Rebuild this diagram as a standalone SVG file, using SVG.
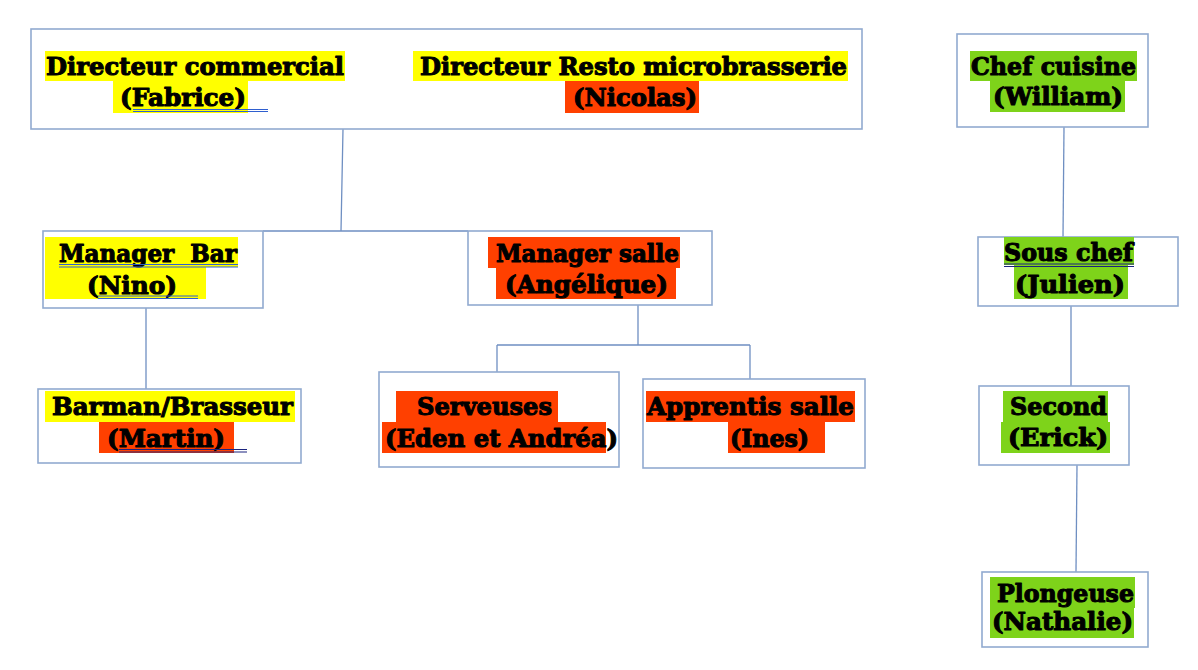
<svg xmlns="http://www.w3.org/2000/svg" width="1198" height="670" viewBox="0 0 1198 670">
<style>
.box{fill:#fff;stroke:#91aad0;stroke-width:1.6}
.ln{fill:none;stroke:#6f8fc2;stroke-width:1.3}
.t{font-family:"DejaVu Serif","Liberation Serif",serif;font-weight:bold;font-size:25px;fill:#000;stroke:#000;stroke-width:1.1;stroke-linejoin:round;white-space:pre}
.y{fill:#ffff00}
.r{fill:#ff4000}
.g{fill:#7ed31a}
.ul{stroke:#2f5fcf;stroke-width:1;fill:none}
.un{stroke:#1a237e;stroke-width:1;fill:none}
</style>
<rect width="1198" height="670" fill="#fff"/>
<g id="connectors">
<path class="ln" d="M343 129 L341 231 M263 231 L468 231"/>
<path class="ln" d="M146 308 L146 390"/>
<path class="ln" d="M638 305 L638 345 M497 345 L750 345 M497 345 L497 373 M750 345 L750 380"/>
<path class="ln" d="M1064 127 L1063 237"/>
<path class="ln" d="M1071 306 L1071 386"/>
<path class="ln" d="M1077 465 L1076 572"/>
</g>
<g id="directeurs">
<rect class="box" x="31" y="29" width="831" height="100"/>
<rect class="y" x="45" y="51" width="300" height="30"/>
<rect class="y" x="113" y="81" width="135" height="32"/>
<text class="t" x="46" y="75" textLength="298" lengthAdjust="spacingAndGlyphs">Directeur commercial</text>
<text class="t" x="120" y="106" textLength="126" lengthAdjust="spacingAndGlyphs">(Fabrice)</text>
<path class="ul" d="M133 109.5 H268 M133 111.5 H268"/>
<rect class="y" x="413" y="51" width="435" height="30"/>
<rect class="r" x="565" y="81" width="134" height="32"/>
<text class="t" x="420" y="75" textLength="427" lengthAdjust="spacingAndGlyphs">Directeur Resto microbrasserie</text>
<text class="t" x="573" y="106" textLength="124" lengthAdjust="spacingAndGlyphs">(Nicolas)</text>
</g>
<g id="manager-bar">
<rect class="box" x="43" y="231" width="220" height="77"/>
<rect class="y" x="45" y="237" width="193" height="30"/>
<rect class="y" x="45" y="267" width="161" height="32"/>
<text class="t" x="59" y="262" textLength="178" lengthAdjust="spacingAndGlyphs" xml:space="preserve">Manager  Bar</text>
<path class="ul" d="M59 264.5 H238 M59 267 H238"/>
<text class="t" x="87" y="294" textLength="90" lengthAdjust="spacingAndGlyphs">(Nino)</text>
<path class="ul" d="M98 296 H198 M98 298.5 H198"/>
</g>
<g id="barman">
<rect class="box" x="38" y="389" width="263" height="74"/>
<rect class="y" x="45" y="391" width="250" height="31"/>
<rect class="r" x="99" y="422" width="135" height="31"/>
<text class="t" x="52" y="415" textLength="241" lengthAdjust="spacingAndGlyphs">Barman/Brasseur</text>
<text class="t" x="107" y="447" textLength="118" lengthAdjust="spacingAndGlyphs">(Martin)</text>
<path class="un" d="M119 449.5 H247 M119 452 H247"/>
</g>
<g id="manager-salle">
<rect class="box" x="468" y="231" width="244" height="74"/>
<rect class="r" x="488" y="237" width="192" height="31"/>
<rect class="r" x="496" y="268" width="180" height="31"/>
<text class="t" x="496" y="262" textLength="183" lengthAdjust="spacingAndGlyphs">Manager salle</text>
<text class="t" x="505" y="293" textLength="163" lengthAdjust="spacingAndGlyphs">(Angélique)</text>
</g>
<g id="serveuses">
<rect class="box" x="379" y="372" width="240" height="95"/>
<rect class="r" x="396" y="391" width="162" height="31"/>
<rect class="r" x="382" y="422" width="224" height="31"/>
<text class="t" x="417" y="415" textLength="135" lengthAdjust="spacingAndGlyphs">Serveuses</text>
<text class="t" x="385" y="447" textLength="233" lengthAdjust="spacingAndGlyphs">(Eden et Andréa)</text>
</g>
<g id="apprentis">
<rect class="box" x="643" y="379" width="222" height="89"/>
<rect class="r" x="646" y="391" width="209" height="31"/>
<rect class="r" x="728" y="422" width="97" height="31"/>
<text class="t" x="647" y="415" textLength="207" lengthAdjust="spacingAndGlyphs">Apprentis salle</text>
<text class="t" x="730" y="447" textLength="79" lengthAdjust="spacingAndGlyphs">(Ines)</text>
</g>
<g id="chef-cuisine">
<rect class="box" x="957" y="34" width="191" height="93"/>
<rect class="g" x="970" y="51" width="167" height="30"/>
<rect class="g" x="990" y="81" width="135" height="31"/>
<text class="t" x="971" y="75" textLength="165" lengthAdjust="spacingAndGlyphs">Chef cuisine</text>
<text class="t" x="993" y="105" textLength="130" lengthAdjust="spacingAndGlyphs">(William)</text>
</g>
<g id="sous-chef">
<rect class="box" x="978" y="237" width="200" height="69"/>
<rect class="g" x="1004" y="237" width="130" height="28"/>
<rect class="g" x="1014" y="265" width="114" height="34"/>
<text class="t" x="1004" y="261" textLength="129" lengthAdjust="spacingAndGlyphs">Sous chef</text>
<path class="un" d="M1004 264 H1134 M1004 266.5 H1134"/>
<text class="t" x="1015" y="293" textLength="110" lengthAdjust="spacingAndGlyphs">(Julien)</text>
</g>
<g id="second">
<rect class="box" x="979" y="386" width="150" height="79"/>
<rect class="g" x="1003" y="391" width="105" height="31"/>
<rect class="g" x="1001" y="422" width="109" height="31"/>
<text class="t" x="1010" y="415" textLength="97" lengthAdjust="spacingAndGlyphs">Second</text>
<text class="t" x="1008" y="446" textLength="100" lengthAdjust="spacingAndGlyphs">(Erick)</text>
</g>
<g id="plongeuse">
<rect class="box" x="982" y="572" width="166" height="75"/>
<rect class="g" x="990" y="577" width="145" height="31"/>
<rect class="g" x="990" y="608" width="144" height="30"/>
<text class="t" x="997" y="602" textLength="137" lengthAdjust="spacingAndGlyphs">Plongeuse</text>
<text class="t" x="992" y="630" textLength="141" lengthAdjust="spacingAndGlyphs">(Nathalie)</text>
</g>
</svg>
